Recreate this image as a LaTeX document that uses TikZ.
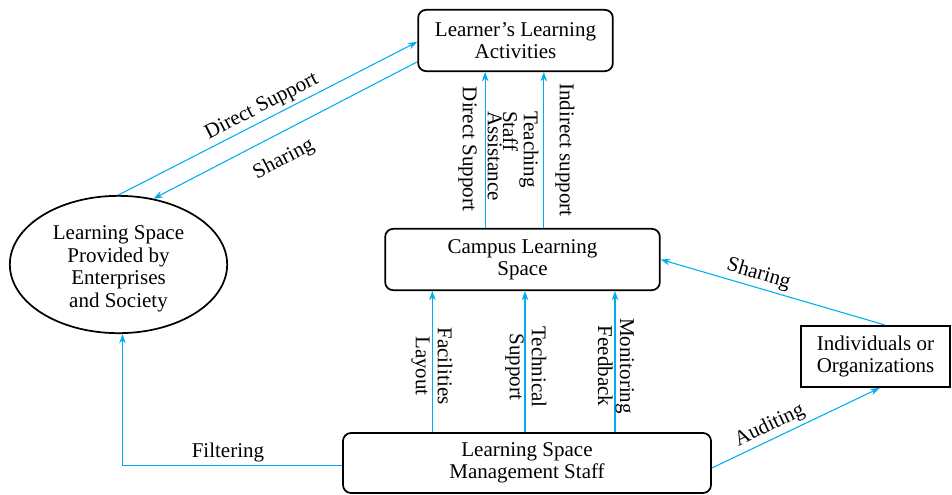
\documentclass[tikz,border=0pt]{standalone}
\usepackage{fontspec}
\setmainfont{Liberation Serif}
\usetikzlibrary{arrows.meta,shapes.geometric}

\definecolor{flowc}{HTML}{00AEEF}

\tikzset{
 box/.style={draw,line width=1.3pt,rounded corners=6pt,align=center,inner sep=0pt},
 ellip/.style={draw,ellipse,line width=1.3pt,align=center,inner sep=0pt,
  minimum width=163pt,minimum height=103pt},
 flow/.style={draw=flowc,line width=0.8pt,-{Stealth[length=7pt,width=5pt]}},
 lab/.style={align=center,inner sep=2.5pt}
}

\begin{document}
\begin{tikzpicture}[x=0.75pt,y=-0.75pt,font=\fontsize{15.75}{16.5}\selectfont]
\useasboundingbox (0,0) rectangle (952,494);

% boxes
\node[box,minimum width=146pt,minimum height=46pt] (act) at (515.5,40.5)
 {Learner's Learning\\Activities};
\node[ellip,font=\fontsize{15.75}{17}\selectfont] (ells) at (118.5,264.5)
 {\rule{0pt}{17pt}Learning Space\\Provided by\\Enterprises\\and Society};
\node[box,minimum width=206pt,minimum height=46pt] (campus) at (522.5,259.5)
 {Campus Learning\\Space};
\node[box,sharp corners,minimum width=112pt,minimum height=46pt] (indiv) at (875.5,356.5)
 {Individuals or\\Organizations};
\node[box,minimum width=276pt,minimum height=45pt] (staff) at (527,463)
 {Learning Space\\Management Staff};

% campus -> learner
\coordinate (u1) at ([xshift=-28pt]campus.north);
\coordinate (u2) at ([xshift=16pt]campus.north);
\draw[flow] (u1) -- (u1 |- act.south);
\draw[flow] (u2) -- (u2 |- act.south);
\node[lab,rotate=-90] (ldir) at (467.5,149) {Direct Support};
\node[lab,rotate=-90,align=left,font=\fontsize{15.75}{11.5}\selectfont] (lteach) at (513,156)
 {Teaching\\Staff\\Assistance};
\node[lab,rotate=-90] (lind) at (565,150) {Indirect support};

% staff -> campus
\coordinate (m1) at ([xshift=-71pt]staff.north);
\coordinate (m2) at ([xshift=-1.5pt]staff.north);
\coordinate (m3) at ([xshift=66pt]staff.north);
\foreach \m in {m1,m2,m3}
 \draw[flow] (\m) -- (\m |- campus.south);
\node[lab,rotate=-90] (lfac) at (432,366) {Facilities\\Layout};
\node[lab,rotate=-90] (ltech) at (526,367) {Technical\\Support};
\node[lab,rotate=-90] (lmon) at (616,366) {Monitoring\\Feedback};

% the rest
\draw[flow] (ells.north) -- node[lab,sloped,above,pos=0.5] (ldsup) {Direct Support}
 ([yshift=-1pt]act.west);
\draw[flow] ([yshift=-16pt]act.west) -- node[lab,sloped,below=9pt,pos=0.55] (lshare1) {Sharing}
 (ells.62);
\draw[flow] ([xshift=7pt]indiv.north) -- node[lab,sloped,above,pos=0.58] (lshare2) {Sharing}
 (campus.east);
\draw[flow] ([yshift=-3.75pt]staff.east) -- node[lab,sloped,above,pos=0.38] (laudit) {Auditing}
 ([xshift=3pt]indiv.south);
\draw[flow] ([yshift=-2pt]staff.west) -| node[lab,above,pos=0.26] (lfilt) {Filtering}
 ([xshift=3pt]ells.south);

\end{tikzpicture}
\end{document}
